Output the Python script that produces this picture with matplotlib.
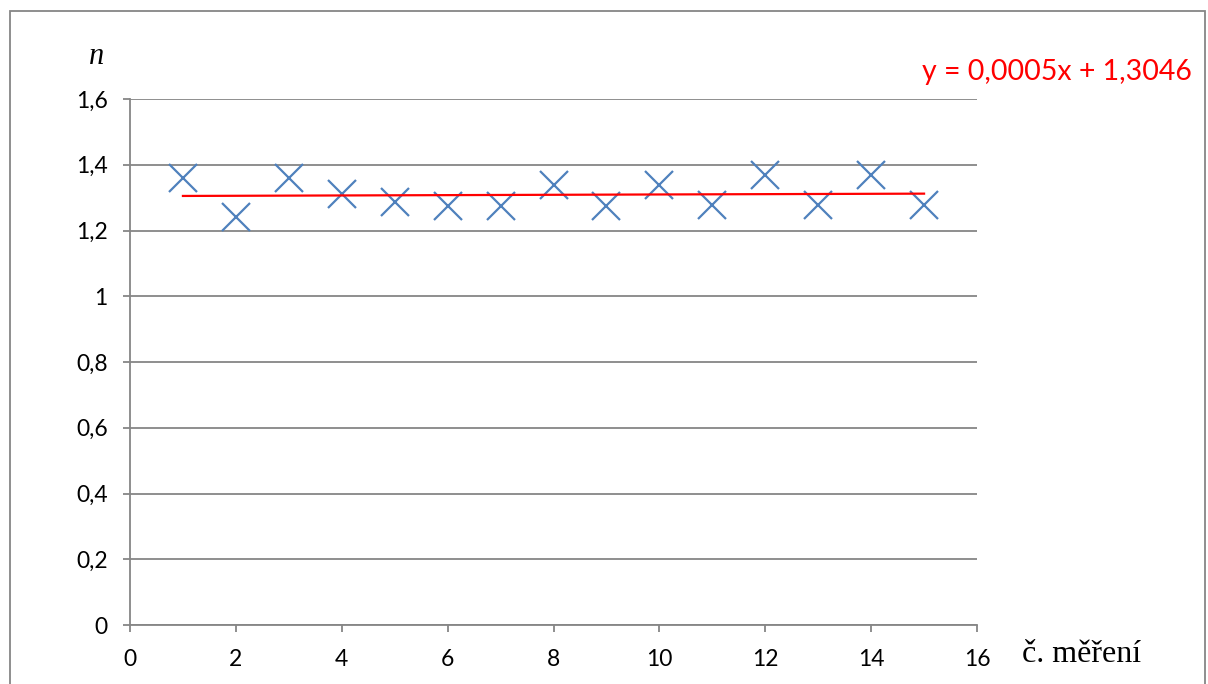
import numpy as np
import matplotlib
matplotlib.use("Agg")
import matplotlib.pyplot as plt
from matplotlib.patches import Rectangle

mereni = [1, 2, 3, 4, 5, 6, 7, 8, 9, 10, 11, 12, 13, 14, 15]
n_vals = [1.359, 1.241, 1.359, 1.311, 1.287, 1.274, 1.274, 1.338,
          1.274, 1.338, 1.277, 1.369, 1.277, 1.369, 1.279]

# linear trend shown on the chart
slope = 0.0005
intercept = 1.3046
eq_text = "y = 0,0005x + 1,3046"

xticks = [0, 2, 4, 6, 8, 10, 12, 14, 16]
yticks = [0, 0.2, 0.4, 0.6, 0.8, 1.0, 1.2, 1.4, 1.6]
ytick_labels = ["0", "0,2", "0,4", "0,6", "0,8", "1", "1,2", "1,4", "1,6"]

W, H = 1208, 684
fig = plt.figure(figsize=(W / 100, H / 100), dpi=100)
ax = fig.add_axes([130 / W, 1 - 625 / H, (977 - 130) / W, (625 - 99) / H])

grey = "#868686"
ax.set_xlim(0, 16)
ax.set_ylim(0, 1.6)
ax.set_xticks(xticks)
ax.set_yticks(yticks)
ax.set_yticklabels(ytick_labels)
ax.grid(axis="y", color=grey, linewidth=1.3)
ax.set_axisbelow(True)
for s in ["top", "right"]:
    ax.spines[s].set_visible(False)
for s in ["left", "bottom"]:
    ax.spines[s].set_color(grey)
    ax.spines[s].set_linewidth(1.3)
ax.tick_params(direction="out", length=5, width=1.3, color=grey, labelsize=16.5)
ax.tick_params(axis="y", pad=11)
ax.tick_params(axis="x", pad=12)
for lbl in ax.get_xticklabels() + ax.get_yticklabels():
    lbl.set_fontfamily("Lato")

ax.plot(mereni, n_vals, linestyle="none", marker="x", markersize=20,
        markeredgewidth=1.6, color="#4F81BD", zorder=3)

xs = np.array([mereni[0], mereni[-1]])
ax.plot(xs, slope * xs + intercept, color="red", linewidth=1.6, zorder=4)

fig.text(922 / W, 1 - 72 / H, eq_text, color="red", fontsize=20.5,
         family="Lato", va="center", ha="left")
fig.text(97 / W, 1 - 57 / H, "n", fontsize=22, family="Liberation Serif",
         style="italic", va="center", ha="center")
fig.text(1022 / W, 1 - 655 / H, "č. měření", fontsize=23,
         family="Liberation Serif", va="center", ha="left")

fig.patches.append(Rectangle((10 / W, -0.05), (1205 - 10) / W, 1.05 - 11 / H,
                             transform=fig.transFigure, fill=False,
                             edgecolor=grey, linewidth=1.3))

fig.savefig("out.png", dpi=100)
